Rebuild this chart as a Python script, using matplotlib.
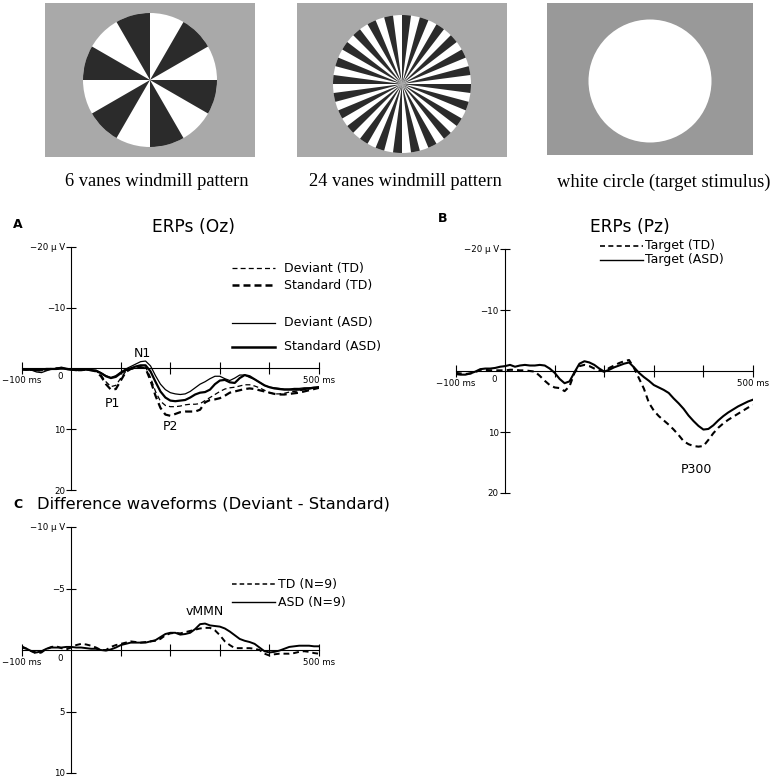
import numpy as np
import matplotlib
matplotlib.use("Agg")
import matplotlib.pyplot as plt
from matplotlib.patches import Wedge, Circle
from matplotlib.lines import Line2D

plt.rcParams['font.family'] = ['DejaVu Sans']

W, H = 773, 780

# time grid of the ERP traces (ms)
t = np.arange(-100, 501, 10)

# Panel A: ERPs at Oz (uV, positive plotted downward)
A_dev_td = [0.2, 0.3, 0.3, 0.4, 0.4, 0.2, 0.1, 0.1, 0.0, 0.1,
            0.2, 0.3, 0.3, 0.2, 0.3, 0.4, 1.1, 2.2, 3.0, 2.8, 1.6,
            0.5, 0.1, 0.0, -0.2, -0.2, 1.5, 3.8, 5.4, 6.1, 6.3,
            6.3, 6.2, 6.0, 5.9, 5.9, 5.8, 5.3, 4.8, 4.3, 3.8,
            3.4, 3.2, 3.1, 2.9, 2.7, 2.7, 2.9, 3.2, 3.6, 4.0,
            4.2, 4.2, 4.1, 3.9, 3.8, 3.7, 3.5, 3.4, 3.2, 3.1]
A_std_td = [0.1, 0.2, 0.2, 0.3, 0.3, 0.2, 0.1, 0.0, 0.0, 0.1,
            0.2, 0.3, 0.3, 0.2, 0.3, 0.5, 1.3, 2.6, 3.5, 3.4, 2.0,
            0.6, 0.1, -0.1, -0.2, 0.0, 2.0, 4.5, 6.5, 7.6, 7.8,
            7.5, 7.2, 7.1, 7.1, 7.1, 6.8, 5.6, 5.2, 5.1, 4.9,
            4.5, 4.0, 3.8, 3.6, 3.4, 3.3, 3.4, 3.6, 3.8, 4.0,
            4.2, 4.3, 4.3, 4.2, 4.1, 4.0, 3.8, 3.6, 3.4, 3.2]
A_dev_asd = [0.1, 0.2, 0.3, 0.6, 0.7, 0.4, 0.1, 0.0, -0.2, 0.0,
             0.1, 0.1, 0.2, 0.2, 0.3, 0.3, 0.7, 1.2, 1.5, 1.2, 0.6,
             0.1, -0.3, -0.7, -1.1, -1.2, -0.4, 1.2, 2.6, 3.5, 4.0,
             4.2, 4.3, 4.2, 3.8, 3.2, 2.6, 2.2, 1.7, 1.3, 1.3,
             1.7, 2.0, 1.6, 1.1, 1.1, 1.5, 1.8, 2.3, 2.8, 3.1,
             3.2, 3.3, 3.4, 3.4, 3.3, 3.3, 3.2, 3.2, 3.1, 3.0]
A_std_asd = [0.2, 0.2, 0.2, 0.3, 0.2, 0.1, 0.1, 0.1, 0.0, 0.1,
             0.2, 0.3, 0.2, 0.2, 0.3, 0.4, 0.8, 1.3, 1.6, 1.4, 0.8,
             0.3, 0.0, -0.3, -0.5, -0.5, 0.5, 2.2, 3.8, 4.8, 5.3,
             5.4, 5.3, 5.2, 4.8, 4.3, 4.0, 3.9, 3.5, 2.6, 2.0,
             1.9, 2.3, 2.4, 1.6, 1.1, 1.3, 1.8, 2.3, 2.8, 3.1,
             3.3, 3.4, 3.5, 3.5, 3.5, 3.5, 3.4, 3.3, 3.2, 3.2]

# Panel B: ERPs at Pz, target
B_td = [0.3, 0.4, 0.5, 0.4, 0.2, -0.2, -0.2, -0.1, -0.1, -0.1,
        -0.1, -0.2, -0.2, -0.1, -0.1, 0.0, 0.1, 0.8, 1.6, 2.3, 2.7,
        2.8, 3.3, 2.5, 0.3, -0.8, -1.0, -0.8, -0.4, -0.1, 0.1,
        -0.5, -0.9, -1.3, -1.6, -1.8, -0.5, 1.2, 2.9, 5.2, 6.5,
        7.4, 8.1, 8.8, 9.6, 10.5, 11.5, 12.0, 12.3, 12.4, 12.3,
        11.3, 10.2, 9.3, 8.6, 8.0, 7.5, 7.0, 6.5, 6.0, 5.6]
B_asd = [0.5, 0.6, 0.6, 0.4, 0.1, -0.3, -0.4, -0.4, -0.5, -0.7,
         -0.8, -1.0, -0.7, -0.9, -1.0, -0.9, -0.9, -1.0, -0.9, -0.4, 0.3,
         1.3, 2.0, 1.7, 0.2, -1.2, -1.6, -1.4, -1.0, -0.4, 0.1,
         -0.2, -0.6, -0.9, -1.2, -1.4, -0.6, 0.3, 1.0, 1.6, 2.3,
         2.7, 3.1, 3.6, 4.5, 5.3, 6.2, 7.3, 8.2, 9.0, 9.6,
         9.5, 8.9, 8.1, 7.4, 6.8, 6.3, 5.8, 5.4, 5.0, 4.7]

# Panel C: difference waveforms (deviant - standard)
C_td = [-0.3, -0.1, 0.1, 0.3, 0.2, -0.1, -0.25, -0.3, -0.15, -0.05,
        -0.2, -0.4, -0.5, -0.45, -0.35, -0.2, 0.0, 0.0, -0.25, -0.4, -0.5,
        -0.6, -0.7, -0.65, -0.6, -0.65, -0.7, -0.75, -0.9, -1.2, -1.35,
        -1.4, -1.35, -1.45, -1.55, -1.65, -1.75, -1.8, -1.8, -1.6, -1.2,
        -0.7, -0.4, -0.15, -0.15, -0.15, -0.15, -0.1, 0.0, 0.3, 0.45,
        0.35, 0.3, 0.3, 0.3, 0.25, 0.15, 0.1, 0.15, 0.25, 0.3]
C_asd = [-0.2, -0.1, 0.1, 0.2, 0.1, -0.1, -0.2, -0.2, -0.2, -0.25,
         -0.25, -0.2, -0.2, -0.15, -0.1, -0.1, 0.0, 0.05, -0.05, -0.2, -0.4,
         -0.5, -0.6, -0.6, -0.6, -0.6, -0.7, -0.8, -1.05, -1.3, -1.4,
         -1.4, -1.25, -1.3, -1.4, -1.7, -2.1, -2.15, -2.0, -1.95, -1.9,
         -1.75, -1.5, -1.2, -0.9, -0.75, -0.65, -0.5, -0.2, 0.1, 0.2,
         0.15, 0.05, -0.1, -0.25, -0.3, -0.35, -0.35, -0.35, -0.3, -0.3]

captions = ['6 vanes windmill pattern', '24 vanes windmill pattern',
            'white circle (target stimulus)']


def box(l, top, r, b):
    return [l / W, 1 - b / H, (r - l) / W, (b - top) / H]


def fx(x):
    return x / W


def fy(y):
    return 1 - y / H


fig = plt.figure(figsize=(W / 100, H / 100), dpi=100)


# ---- stimulus pictures ----
def stimulus(l, top, r, b, bg, cx, cy, rad, n_vanes):
    ax = fig.add_axes(box(l, top, r, b))
    w, h = r - l, b - top
    ax.set_xlim(0, w)
    ax.set_ylim(0, h)
    ax.set_facecolor(bg)
    ax.set_xticks([])
    ax.set_yticks([])
    for s in ax.spines.values():
        s.set_visible(False)
    ax.add_patch(Circle((cx, h - cy), rad, color='white', lw=0))
    if n_vanes:
        step = 180.0 / n_vanes
        for k in range(1, 2 * n_vanes, 2):
            ax.add_patch(Wedge((cx, h - cy), rad, k * step, (k + 1) * step,
                               color='#2b2b2b', lw=0))
    return ax


stimulus(45, 3, 255, 157, '#a9a9a9', 105, 77, 67, 6)
stimulus(297, 3, 507, 157, '#a9a9a9', 105, 81, 69, 24)
stimulus(547, 3, 753, 155, '#999999', 103, 78, 61.5, 0)

for cx, txt in zip([157, 405, 664], captions):
    fig.text(fx(cx), fy(182), txt, family='Liberation Serif', fontsize=13.3,
             ha='center', va='center')


# ---- ERP panels ----
def erp_axes(l, top, r, b, ylim, yticks, ylabels):
    ax = fig.add_axes(box(l, top, r, b))
    ax.patch.set_visible(False)
    ax.set_xlim(-100, 500)
    ax.set_ylim(ylim, -ylim)
    for side in ['top', 'right']:
        ax.spines[side].set_visible(False)
    ax.spines['left'].set_position(('data', 0))
    ax.spines['bottom'].set_position(('data', 0))
    for side in ['left', 'bottom']:
        ax.spines[side].set_linewidth(0.8)
    ax.set_xticks([-100, 100, 200, 300, 400, 500])
    ax.set_xticklabels(['\u2212100 ms', '', '', '', '', '500 ms'])
    ax.set_yticks(yticks)
    ax.set_yticklabels(ylabels)
    ax.tick_params(axis='x', direction='inout', length=9, width=0.8,
                   labelsize=6.2, pad=1)
    ax.tick_params(axis='y', direction='inout', length=7, width=0.8,
                   labelsize=6.2, pad=1)
    ax.annotate('0', xy=(0, 0), xytext=(-8, -6), textcoords='offset points',
                ha='center', va='center', fontsize=6.2)
    return ax


def legend_row(x0, x1, y, label, tx, lw, dashes=None, size=9):
    ln = Line2D([fx(x0), fx(x1)], [fy(y), fy(y)], transform=fig.transFigure,
                color='black', lw=lw)
    if dashes:
        ln.set_dashes(dashes)
    fig.add_artist(ln)
    fig.text(fx(tx), fy(y), label, fontsize=size, ha='left', va='center')


yl20 = ['\u221220 \u03bc V', '\u221210', '10', '20']
yl10 = ['\u221210 \u03bc V', '\u22125', '5', '10']

# A
axA = erp_axes(21.7, 246.7, 319, 490, 20, [-20, -10, 10, 20], yl20)
axA.plot(t, A_dev_td, color='black', lw=0.9, dashes=(4, 2.5))
axA.plot(t, A_std_td, color='black', lw=1.6, dashes=(3.2, 1.9))
axA.plot(t, A_dev_asd, color='black', lw=0.9)
axA.plot(t, A_std_asd, color='black', lw=1.6)
axA.text(144, -2.4, 'N1', fontsize=9, ha='center', va='center')
axA.text(83, 5.75, 'P1', fontsize=9, ha='center', va='center')
axA.text(201, 9.5, 'P2', fontsize=9, ha='center', va='center')
fig.text(fx(18), fy(224), 'A', fontsize=9, weight='bold', ha='center', va='center')
fig.text(fx(193), fy(227), 'ERPs (Oz)', fontsize=12.3, ha='center', va='center')
legend_row(231.7, 275, 268.3, 'Deviant (TD)', 284, 0.9, (4, 2.5))
legend_row(231.7, 275, 285, 'Standard (TD)', 284, 1.8, (2.8, 1.6))
legend_row(231.7, 275, 322.7, 'Deviant (ASD)', 284, 0.9)
legend_row(231.7, 275, 346.7, 'Standard (ASD)', 284, 1.8)

# B
axB = erp_axes(455.5, 249, 753, 493, 20, [-20, -10, 10, 20], yl20)
axB.plot(t, B_td, color='black', lw=1.5, dashes=(3.0, 2.0))
axB.plot(t, B_asd, color='black', lw=1.5)
axB.text(385, 16.2, 'P300', fontsize=9, ha='center', va='center')
fig.text(fx(443), fy(218), 'B', fontsize=9, weight='bold', ha='center', va='center')
fig.text(fx(630), fy(227), 'ERPs (Pz)', fontsize=12.3, ha='center', va='center')
legend_row(600, 643, 246, 'Target (TD)', 645, 1.2, (3, 2))
legend_row(600, 643, 260, 'Target (ASD)', 645, 1.0)

# C
axC = erp_axes(21.7, 527, 319, 773, 10, [-10, -5, 5, 10], yl10)
axC.plot(t, C_td, color='black', lw=1.4, dashes=(3.0, 2.0))
axC.plot(t, C_asd, color='black', lw=1.4)
axC.text(269, -3.1, 'vMMN', fontsize=9, ha='center', va='center')
fig.text(fx(18), fy(504), 'C', fontsize=9, weight='bold', ha='center', va='center')
fig.text(fx(37), fy(504), 'Difference waveforms (Deviant - Standard)',
         fontsize=11.8, ha='left', va='center')
legend_row(231.7, 275, 584.3, 'TD (N=9)', 278, 1.1, (3, 2))
legend_row(231.7, 275, 602.3, 'ASD (N=9)', 278, 1.0)

fig.savefig('out.png', dpi=100)
